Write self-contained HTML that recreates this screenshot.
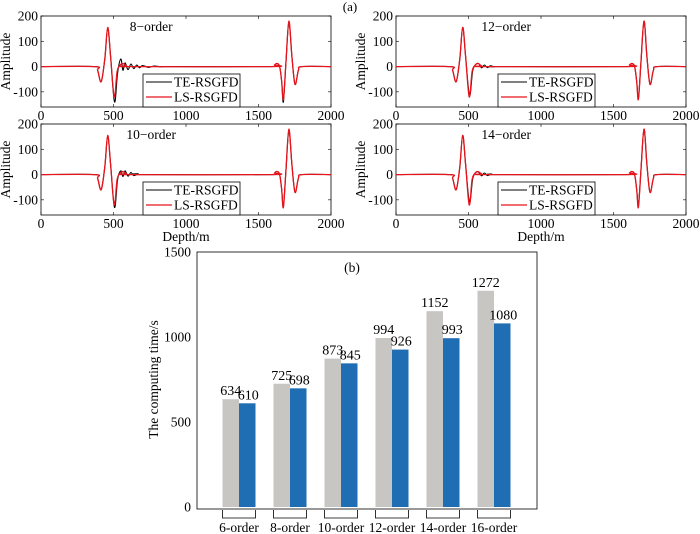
<!DOCTYPE html>
<html><head><meta charset="utf-8"><style>
body{margin:0;background:#fff;}
svg{display:block;font-family:"Liberation Serif",serif;}
</style></head><body>
<svg id="c" width="700" height="534" viewBox="0 0 700 534">
<text x="350" y="11" font-size="13" text-anchor="middle">(a)</text>
</svg>
<script>
const NS="http://www.w3.org/2000/svg";
const svg=document.getElementById('c');
// ---- waveform data (depth, amplitude) ----
const xTicks=[0,500,1000,1500,2000];
const yTicks=[200,100,0,-100];
const panelTitles=["8\u2212order","12\u2212order","10\u2212order","14\u2212order"];
const lsDepth=[0,370,390,415,440,460,480,505,525,545,565,590,620,1580,1610,1625,1645,1660,1672,1690,1710,1730,1752,1775,1800,2000];
const lsAmp=[0,0,-15,-60,30,155,40,-120,-20,5,12,3,0,0,6,12,2,-60,-130,20,180,40,-70,-15,0,0];
const teDepth=[[0,370,390,415,440,460,480,507,528,550,565,580,600,620,640,660,680,700,740,780,830,880,1580,1610,1625,1645,1660,1672,1690,1710,1730,1752,1775,1800,2000],
[0,370,390,415,440,460,480,507,528,550,570,590,610,630,650,680,710,1580,1610,1625,1645,1660,1672,1690,1710,1730,1752,1775,1800,2000],
[0,370,390,415,440,460,480,507,528,550,565,580,600,620,640,670,700,1580,1610,1625,1645,1660,1672,1690,1710,1730,1752,1775,1800,2000],
[0,370,390,415,440,460,480,507,528,550,570,590,610,630,660,700,1580,1610,1625,1645,1660,1672,1690,1710,1730,1752,1775,1800,2000]];
const teAmp=[[0,0,-15,-60,30,150,40,-140,-25,30,-15,15,-12,10,-8,6,-5,4,-3,2,-1,0,0,6,12,2,-60,-140,20,175,40,-70,-15,0,0],
[0,0,-15,-60,30,155,40,-115,-18,8,12,-5,6,-4,3,-1,0,0,6,12,2,-60,-125,20,180,40,-70,-15,0,0],
[0,0,-15,-60,30,150,40,-130,-20,15,-8,15,-6,8,-4,3,0,0,6,12,2,-60,-125,20,175,40,-70,-15,0,0],
[0,0,-15,-60,30,155,40,-110,-18,8,10,-5,6,-4,2,0,0,6,12,2,-60,-120,20,180,40,-70,-15,0,0]];
// ---- bar data ----
const cats=["6-order","8-order","10-order","12-order","14-order","16-order"];
const teTime=[634,725,873,994,1152,1272];
const lsTime=[610,698,845,926,993,1080];
const barTicks=[0,500,1000,1500];

const FS=13.5;
function el(t,a,p){const e=document.createElementNS(NS,t);for(const k in a)e.setAttribute(k,a[k]);(p||svg).appendChild(e);return e;}
function txt(x,y,s,size,anchor,p,extra){const e=el('text',Object.assign({x:x,y:y,'font-size':size,'text-anchor':anchor},extra||{}),p);e.textContent=s;return e;}
function smooth(pts){let d='M'+pts[0][0]+','+pts[0][1];for(let i=0;i<pts.length-1;i++){const p0=pts[Math.max(0,i-1)],p1=pts[i],p2=pts[i+1],p3=pts[Math.min(pts.length-1,i+2)];
d+=' C'+(p1[0]+(p2[0]-p0[0])/6).toFixed(1)+','+(p1[1]+(p2[1]-p0[1])/6).toFixed(1)+' '+(p2[0]-(p3[0]-p1[0])/6).toFixed(1)+','+(p2[1]-(p3[1]-p1[1])/6).toFixed(1)+' '+p2[0]+','+p2[1];}return d;}

const lefts=[41,396],tops=[16,124];
for(let k=0;k<4;k++){
  const L=lefts[k%2],T=tops[Math.floor(k/2)],W=290,H=91;
  const g=el('g',{});
  
  
  const sx=v=>L+v/2000*W, sy=v=>T+(200-v)/360*H;
  const box=el('rect',{x:L,y:T,width:W,height:H,fill:'none',stroke:'#000','stroke-width':0.8},g);
  
  xTicks.forEach(v=>{el('line',{x1:sx(v),x2:sx(v),y1:T+H,y2:T+H-3,stroke:'#000','stroke-width':0.6},g);el('line',{x1:sx(v),x2:sx(v),y1:T,y2:T+3,stroke:'#000','stroke-width':0.6},g);
    const t=txt(sx(v),T+H+13,String(v),FS,'middle',g);});
  yTicks.forEach(v=>{el('line',{x1:L,x2:L+3,y1:sy(v),y2:sy(v),stroke:'#000','stroke-width':0.6},g);el('line',{x1:L+W,x2:L+W-3,y1:sy(v),y2:sy(v),stroke:'#000','stroke-width':0.6},g);
    const t=txt(L-3,sy(v)+4.5,v<0?'-'+(-v):String(v),FS,'end',g);});
  const yl=txt(0,0,'Amplitude',FS,'middle',g,{transform:'translate('+(L-31)+','+(T+H/2)+') rotate(-90)'});
  
  const tt=txt(L+W*0.38,T+15,panelTitles[k],FS,'middle',g);
  
  if(k>=2){const xl=txt(L+W/2,T+H+26,'Depth/m',FS,'middle',g);}
  const te=el('path',{d:smooth(teDepth[k].map((d,i)=>[+sx(d).toFixed(1),+sy(teAmp[k][i]).toFixed(1)])),fill:'none',stroke:'#000','stroke-width':1.1},g);
  
  const ls=el('path',{d:smooth(lsDepth.map((d,i)=>[+sx(d).toFixed(1),+sy(lsAmp[i]).toFixed(1)])),fill:'none',stroke:'#e8141c','stroke-width':1.3},g);
  
  const lg=el('g',{},g);
  el('rect',{x:L+102,y:T+58,width:97,height:33,fill:'#fff',stroke:'#000','stroke-width':0.8},lg);
  el('line',{x1:L+105,x2:L+131,y1:T+66,y2:T+66,stroke:'#000','stroke-width':1.1},lg);
  el('line',{x1:L+105,x2:L+131,y1:T+81,y2:T+81,stroke:'#e8141c','stroke-width':1.3},lg);
  const a=txt(L+133,T+70.5,'TE-RSGFD',FS,'start',lg);
  const b=txt(L+133,T+85.5,'LS-RSGFD',FS,'start',lg);
}
// ---- bar chart ----
const BL=197,BT=252,BW=340,BB=507;
const by=v=>BB-v/1500*(BB-BT);
const bg=el('g',{});
const bb=el('rect',{x:BL,y:BT,width:BW,height:BB-BT+2,fill:'none',stroke:'#000','stroke-width':0.8},bg);

barTicks.forEach(v=>{const t=txt(BL-6,by(v)+4.5,String(v),FS,'end',bg);});
const byl=txt(0,0,'The computing time/s',FS,'middle',bg,{transform:'translate(158,'+((BT+BB)/2)+') rotate(-90)'});

const pb=txt(352,272,'(b)',FS,'middle',bg);
cats.forEach((c,i)=>{
  const cx=239+i*51,bw=16.5;
  const r1=el('rect',{x:cx-bw,y:by(teTime[i]),width:bw,height:BB-by(teTime[i]),fill:'#c8c6c2'},bg);
  
  const r2=el('rect',{x:cx,y:by(lsTime[i]),width:bw,height:BB-by(lsTime[i]),fill:'#1f6eb3'},bg);
  
  const t1=txt(cx-bw/2,by(teTime[i])-4,String(teTime[i]),14,'middle',bg);
  const t2=txt(cx+bw/2+1,by(lsTime[i])-4,String(lsTime[i]),14,'middle',bg);
  el('path',{d:'M'+(cx-bw)+','+(BB+3)+' v8 h'+(2*bw)+' v-8',fill:'none',stroke:'#000','stroke-width':0.8},bg);
  const cl=txt(cx,BB+25,c,FS,'middle',bg);
});
</script>
</body></html>
